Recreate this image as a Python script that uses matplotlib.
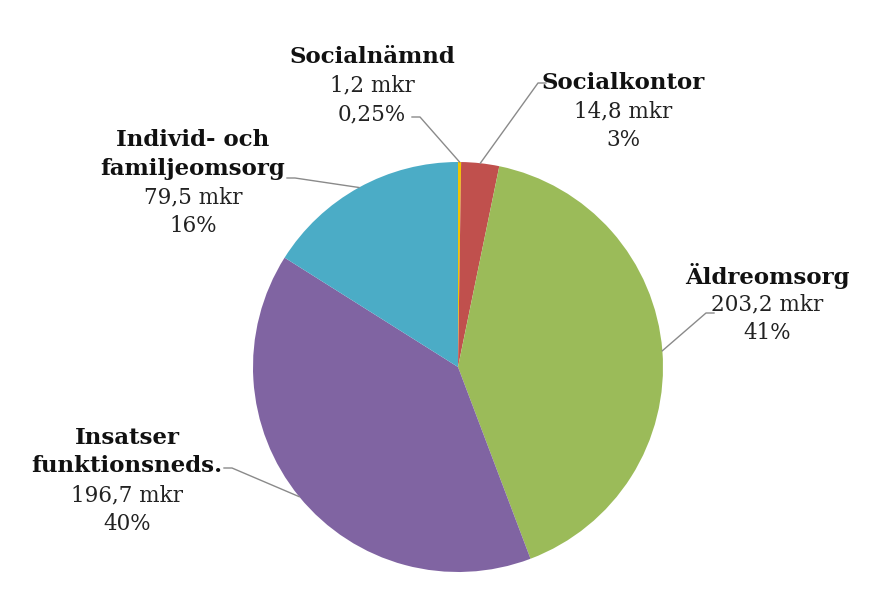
import numpy as np
import matplotlib.pyplot as plt

names = ["Socialnämnd", "Socialkontor", "Äldreomsorg", "Insatser\nfunktionsneds.", "Individ- och\nfamiljeomsorg"]
values = [1.2, 14.8, 203.2, 196.7, 79.5]
amounts = ["1,2 mkr", "14,8 mkr", "203,2 mkr", "196,7 mkr", "79,5 mkr"]
shares = ["0,25%", "3%", "41%", "40%", "16%"]
colors = ["#F2C500", "#C0504D", "#9BBB59", "#8064A2", "#4BACC6"]

W, H = 885, 606
cx, cy, r = 458, H - 367, 205

# label block: (x centre, y of first line, leader text end x, y, side)
label_pos = [
    (372, 57, 412, 117, "r"),
    (623, 83, 546, 83, "l"),
    (767, 276, 714, 313, "l"),
    (127, 438, 224, 468, "r"),
    (193, 140, 287, 178, "r"),
]
line_h = 28.5

fig = plt.figure(figsize=(W / 100, H / 100), dpi=100)
ax = fig.add_axes([0, 0, 1, 1])

wedges, _ = ax.pie(values, colors=colors, startangle=90, counterclock=False,
                   radius=r, center=(cx, cy), frame=True,
                   wedgeprops=dict(linewidth=0))
ax.set_xlim(0, W)
ax.set_ylim(0, H)
ax.axis("off")

for i, w in enumerate(wedges):
    mid = np.deg2rad((w.theta1 + w.theta2) / 2)
    ex, ey = cx + r * np.cos(mid), cy + r * np.sin(mid)
    lx, ly0, tx, ty, side = label_pos[i]
    ty = H - ty
    kx = tx + 8 if side == "r" else tx - 8
    ax.plot([tx, kx, ex], [ty, ty, ey], color="#8a8a8a", lw=1.0, zorder=1)

    rows = names[i].split("\n")
    y = H - ly0
    for row in rows:
        ax.text(lx, y, row, ha="center", va="center", fontsize=16.5, fontweight="bold",
                family="DejaVu Serif", color="#111111")
        y -= line_h
    for row in (amounts[i], shares[i]):
        ax.text(lx, y, row, ha="center", va="center", fontsize=15.5,
                family="DejaVu Serif", color="#222222")
        y -= line_h

fig.savefig("out.png", dpi=100)
